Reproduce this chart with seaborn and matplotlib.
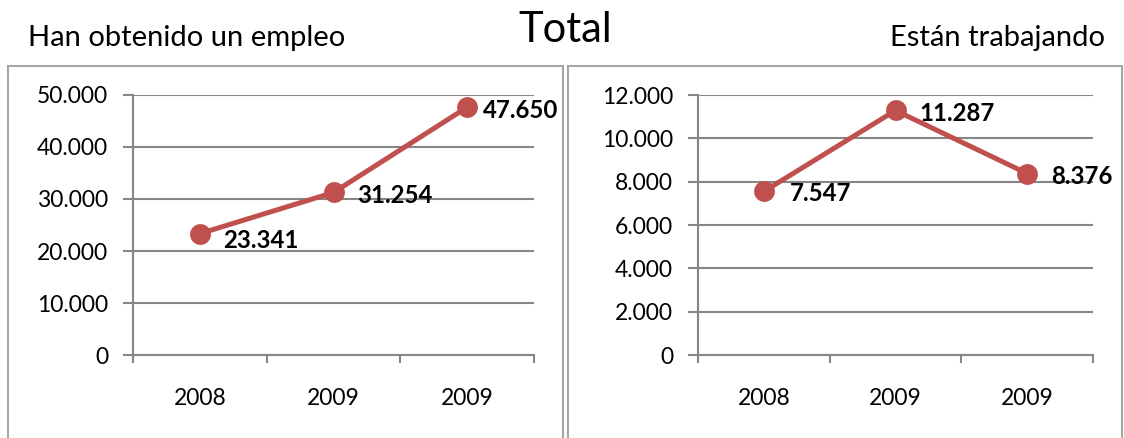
import matplotlib
matplotlib.use("Agg")
import matplotlib.pyplot as plt
import matplotlib.ticker as mticker
from matplotlib.patches import Rectangle
import seaborn as sns
import pandas as pd

# ---- data ----
categories = ["2008", "2009", "2009"]
empleo_values = [23341, 31254, 47650]
trabajando_values = [7547, 11287, 8376]
left_title = "Han obtenido un empleo"
right_title = "Están trabajando"
main_title = "Total"
left_yticks = [0, 10000, 20000, 30000, 40000, 50000]
right_yticks = [0, 2000, 4000, 6000, 8000, 10000, 12000]

sns.set_theme(style="white")
plt.rcParams['font.family'] = ['Lato', 'DejaVu Sans']

LINE = "#C0504D"
GRID = "#868686"
FS = 16.5

fig = plt.figure(figsize=(11.24, 4.38), dpi=100)

def fmt(v):
    return f"{int(round(v)):,}".replace(",", ".")

# panel borders
for (x0, x1) in [(8, 563), (568, 1122)]:
    fig.patches.append(Rectangle((x0 / 1124, -0.05), (x1 - x0) / 1124, 1.05 - 66.5 / 438,
                                 transform=fig.transFigure, fill=False,
                                 edgecolor="#A6A6A6", linewidth=1.5))

def panel(rect, values, yticks, label_offsets):
    ax = fig.add_axes(rect)
    df = pd.DataFrame({"pos": list(range(len(categories))), "val": values})
    sns.lineplot(data=df, x="pos", y="val", ax=ax, color=LINE, linewidth=3.6,
                 marker="o", markersize=15, markeredgewidth=0)
    ax.set_xlim(-0.5, len(categories) - 0.5)
    ax.set_ylim(yticks[0], yticks[-1])
    ax.set_yticks(yticks)
    ax.yaxis.set_major_formatter(mticker.FuncFormatter(lambda v, p: fmt(v)))
    ax.set_xticks([i - 0.5 for i in range(len(categories) + 1)])
    ax.set_xticklabels([])
    ax.set_xticks(list(range(len(categories))), minor=True)
    ax.set_xticklabels(categories, minor=True)
    ax.tick_params(axis="x", which="major", direction="out", length=6, width=1.5,
                   color=GRID, bottom=True)
    ax.tick_params(axis="x", which="minor", length=0, pad=24, labelsize=FS, labelcolor="black")
    ax.tick_params(axis="y", direction="out", length=7, width=1.5, color=GRID,
                   pad=11, labelsize=FS, labelcolor="black", left=True)
    ax.set_xlabel("")
    ax.set_ylabel("")
    ax.grid(axis="y", color=GRID, linewidth=1.5)
    ax.grid(axis="x", visible=False)
    for s in ["top", "right"]:
        ax.spines[s].set_visible(False)
    for s in ["left", "bottom"]:
        ax.spines[s].set_color(GRID)
        ax.spines[s].set_linewidth(1.5)
    ax.set_axisbelow(True)
    for i, v in enumerate(values):
        ax.annotate(fmt(v), (i, v), xytext=label_offsets[i], textcoords="offset points",
                    ha="left", va="center", fontsize=17.3, fontweight="bold", color="black")
    return ax

panel([133 / 1124, 1 - 355 / 438, (534 - 133) / 1124, (355 - 95) / 438], empleo_values, left_yticks,
      [(16.5, -5), (17, -2.5), (11.5, -2.5)])
panel([698 / 1124, 1 - 355 / 438, (1093 - 698) / 1124, (355 - 95) / 438], trabajando_values, right_yticks,
      [(18.5, -1.5), (17.5, -2.5), (17, -2.5)])

fig.text(28 / 1124, 1 - 46 / 438, left_title, ha="left", va="baseline", fontsize=21, color="black")
fig.text(1105 / 1124, 1 - 46 / 438, right_title, ha="right", va="baseline", fontsize=21, color="black")
fig.text(565 / 1124, 1 - 42 / 438, main_title, ha="center", va="baseline", fontsize=30, color="black")

fig.savefig("out.png", dpi=100)
